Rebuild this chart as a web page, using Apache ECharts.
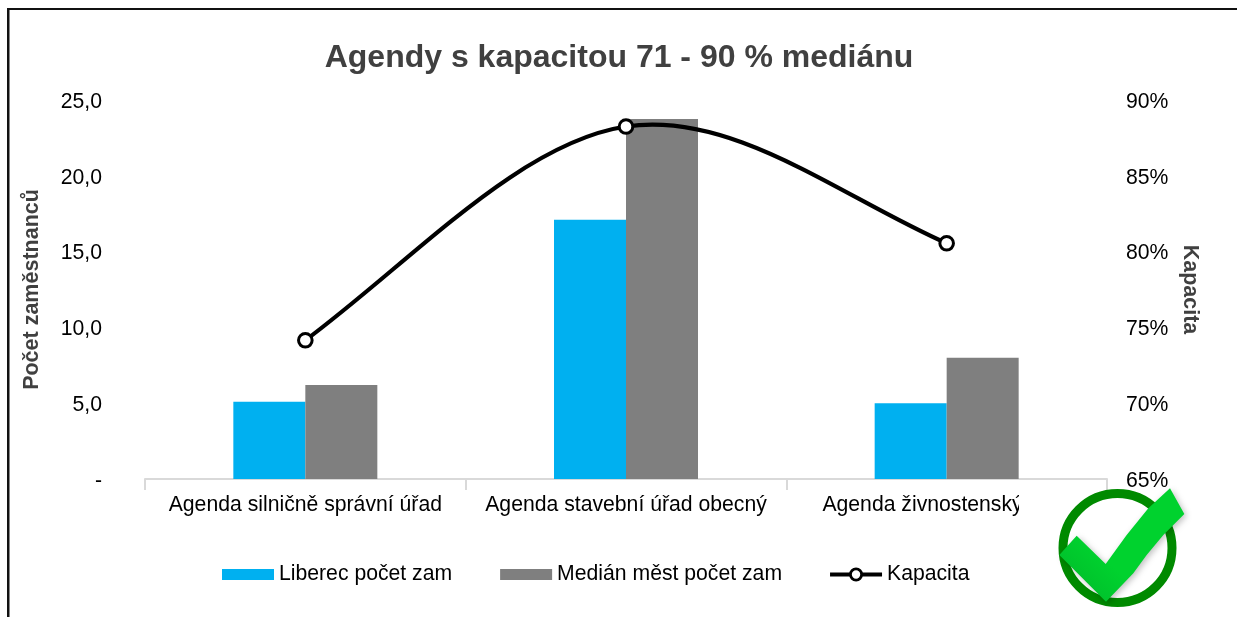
<!DOCTYPE html>
<html><head><meta charset="utf-8">
<style>html,body{margin:0;padding:0;background:#fff}#c{width:1237px;height:617px}</style>
<script src="https://cdn.jsdelivr.net/npm/echarts@6/dist/echarts.min.js"></script>
</head><body><div id="c"></div>
<script>
const categories = ['Agenda silničně správní úřad','Agenda stavební úřad obecný','Agenda živnostenský úřad'];
const liberec = [5.1,17.1,5.0];
const median = [6.2,23.75,8.0];
const kapacita = [74.15,88.25,80.55];
const seriesNames = ['Liberec počet zam','Medián měst počet zam','Kapacita'];
const titleText = 'Agendy s kapacitou 71 - 90 % mediánu';
const leftAxisName = 'Počet zaměstnanců';
const rightAxisName = 'Kapacita';
const F = '"Liberation Sans", Arial, sans-serif';
const FS = 21.2;
const barIcon = 'path://M0 0L0.01 0L0 0ZM0 3H52V14H0ZM52 17L51.99 17L52 17Z';
const lineIcon = 'path://M0 0L0.01 0L0 0ZM0 6.5H19.5V10.5H0ZM32.5 6.5H52V10.5H32.5ZM19 8.5A7 7 0 1 1 33 8.5A7 7 0 1 1 19 8.5ZM21.8 8.5A4.2 4.2 0 1 0 30.2 8.5A4.2 4.2 0 1 0 21.8 8.5ZM52 17L51.99 17L52 17Z';
const pts = [[178,345],[230,287],[317,372],[380,285],[445,205],[510,145],[553,222],[490,285],[440,345],[400,400],[318,485]]
  .map(p => [1000+p[0]/3, 440+p[1]/3]);

// Spreadsheet-style spline through the points, positioned by the chart's own scales
function tangent(P, i) {
  const n = P.length;
  const slope = (a, b) => [b[0]-a[0], b[1]-a[1]];
  if (i > 0 && i < n-1) { const v = slope(P[i-1], P[i+1]); return [v[0]/2, v[1]/2]; }
  const a = i === 0 ? 0 : n-2;
  const c = slope(P[a], P[a+1]);
  const other = tangent(P, i === 0 ? 1 : n-2);
  const cs = c[1]/c[0], os = other[1]/other[0];
  return [c[0], c[0]*(cs + 0.15*(cs-os))];
}
function renderKapacita(params, api) {
  const i = params.dataIndex;
  const P = kapacita.map((v, k) => api.coord([k, v]));
  const children = [];
  if (i < P.length-1) {
    const dx = (P[i+1][0]-P[i][0])/3;
    const t0 = tangent(P, i), t1 = tangent(P, i+1);
    const s0 = t0[1]/t0[0], s1 = t1[1]/t1[0];
    children.push({type:'bezierCurve',z2:1,shape:{x1:P[i][0],y1:P[i][1],x2:P[i+1][0],y2:P[i+1][1],
      cpx1:P[i][0]+dx,cpy1:P[i][1]+dx*s0,cpx2:P[i+1][0]-dx,cpy2:P[i+1][1]-dx*s1},
      style:{stroke:'#000',lineWidth:4.2,fill:null,lineCap:'round'}});
  }
  children.push({type:'circle',z2:2,shape:{cx:P[i][0],cy:P[i][1],r:6.8},style:{fill:'#fff',stroke:'#000',lineWidth:3}});
  return {type:'group',children};
}
const numLabel = s => '{a|' + s + '}';
const richNum = {a:{fontFamily:F,fontSize:FS,color:'#000',padding:[4,0,0,0]}};

const chart = echarts.init(document.getElementById('c'));
chart.setOption({
  animation:false,
  backgroundColor:'#fff',
  title:{text:titleText,left:614,textAlign:'center',top:37,textStyle:{fontFamily:F,fontSize:32,fontWeight:'bold',color:'#404040'}},
  grid:{left:145,right:130,top:100,bottom:138},
  legend:{left:217,top:559,itemWidth:52,itemHeight:17,itemGap:48,
    data:[{name:seriesNames[0],icon:barIcon},{name:seriesNames[1],icon:barIcon},{name:seriesNames[2],icon:lineIcon,itemStyle:{color:'#000'}}],
    textStyle:{fontFamily:F,fontSize:FS,color:'#000'}},
  xAxis:{type:'category',data:categories,
    axisLine:{lineStyle:{color:'#d9d9d9',width:2}},
    axisTick:{show:true,length:11,lineStyle:{color:'#d9d9d9',width:2}},
    axisLabel:{fontFamily:F,fontSize:FS,color:'#000',margin:16,interval:0}},
  yAxis:[
   {type:'value',min:0,max:25,interval:5,name:leftAxisName,nameLocation:'middle',nameGap:102,nameRotate:90,
    nameTextStyle:{fontFamily:F,fontSize:21.5,fontWeight:'bold',color:'#404040'},
    splitLine:{show:false},axisLine:{show:false},axisTick:{show:false},
    axisLabel:{margin:43,rich:richNum,formatter:v=>numLabel(v===0?'-':v.toFixed(1).replace('.',','))}},
   {type:'value',min:65,max:90,interval:5,name:rightAxisName,nameLocation:'middle',nameGap:64,nameRotate:-90,
    nameTextStyle:{fontFamily:F,fontSize:21.5,fontWeight:'bold',color:'#404040'},
    splitLine:{show:false},axisLine:{show:false},axisTick:{show:false},
    axisLabel:{margin:19,rich:richNum,formatter:v=>numLabel(v+'%')}}
  ],
  series:[
   {name:seriesNames[0],type:'bar',data:liberec,barWidth:72,barGap:'0%',itemStyle:{color:'#00b0f0'}},
   {name:seriesNames[1],type:'bar',data:median,barWidth:72,barGap:'0%',itemStyle:{color:'#7f7f7f'}},
   {name:seriesNames[2],type:'custom',yAxisIndex:1,data:kapacita.map((v,i)=>[i,v]),encode:{x:0,y:1},
    renderItem:renderKapacita,itemStyle:{color:'#000'},clip:false,z:5}
  ],
  graphic:[
   {type:'rect',z:100,shape:{x:1019,y:490,width:218,height:127},style:{fill:'#fff'}},
   {type:'rect',z:101,shape:{x:7,y:8,width:2.5,height:609},style:{fill:'#111'}},
   {type:'rect',z:101,shape:{x:7,y:8,width:1230,height:2},style:{fill:'#111'}},
   {type:'circle',z:102,shape:{cx:1117.5,cy:548,r:54.5},style:{fill:'#fff',stroke:'#008a00',lineWidth:9}},
   {type:'polygon',z:103,shape:{points:pts},style:{fill:{type:'linear',x:0,y:1,x2:0.35,y2:0.6,colorStops:[{offset:0,color:'#00b52a'},{offset:1,color:'#00d22e'}]},shadowBlur:6,shadowColor:'rgba(0,0,0,0.25)',shadowOffsetX:2,shadowOffsetY:2}}
  ]
});
</script></body></html>
